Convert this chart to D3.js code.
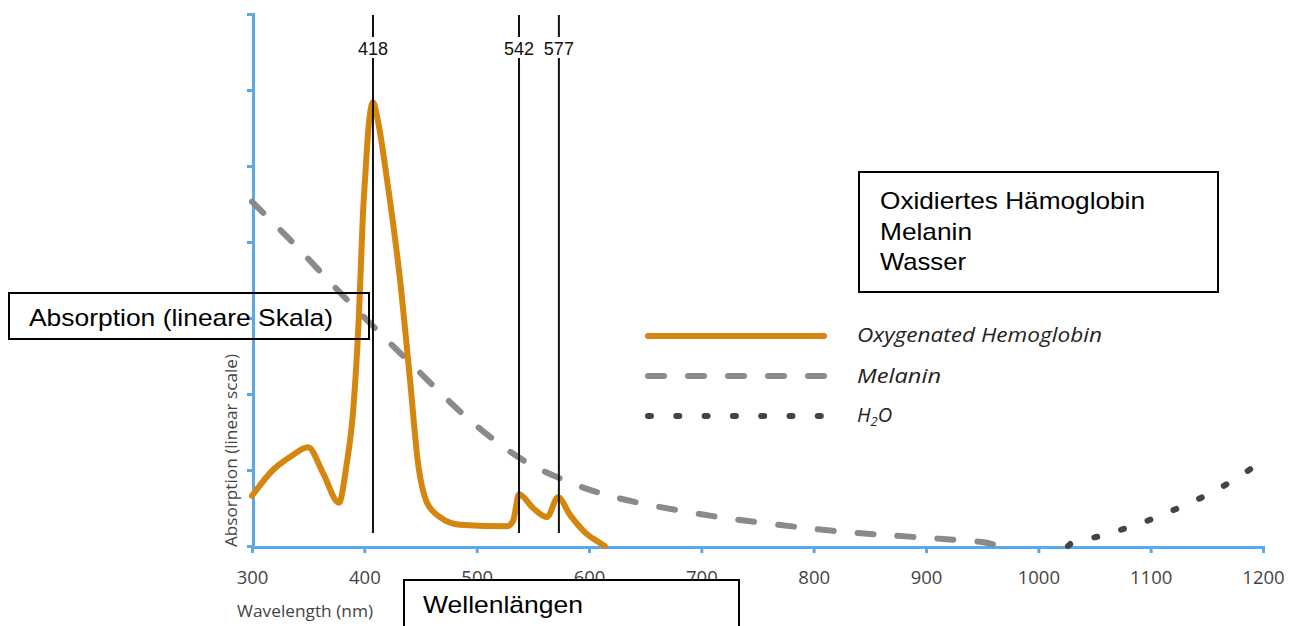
<!DOCTYPE html>
<html>
<head>
<meta charset="utf-8">
<script src="https://cdn.jsdelivr.net/npm/d3@7"></script>
<style>
  html, body { margin: 0; padding: 0; background: #fff; }
  svg { display: block; }
</style>
</head>
<body>
<svg id="chart" width="1292" height="626"></svg>
<script>
// ---- data ----
const xTicks = [300, 400, 500, 600, 700, 800, 900, 1000, 1100, 1200];
const yTicks = [0, 1, 2, 3, 4, 5, 6, 7];

const hbWavelength = [300, 318.7, 333.8, 349.9, 363.2, 377.4, 384, 389.9, 395.3, 398.8, 400.6, 404, 407.7, 412, 420.2, 431.8, 440.7, 447.8, 455.8, 467.4, 485.2, 527, 532.4, 537.7, 550.2, 562.6, 572.4, 583.1, 596.4, 609.8, 614];
const hbAbsorption = [0.66, 1.0, 1.17, 1.30, 0.96, 0.57, 1.05, 1.75, 3.07, 4.38, 4.82, 5.55, 5.84, 5.6, 4.82, 3.50, 2.18, 1.09, 0.57, 0.38, 0.28, 0.26, 0.33, 0.68, 0.50, 0.38, 0.64, 0.41, 0.18, 0.04, 0.0];

const melaninWavelength = [300, 333.8, 387.2, 438, 496.7, 541.3, 574.2, 616, 698.8, 817.2, 887.6, 955.2, 961.4];
const melaninAbsorption = [4.53, 4.03, 3.20, 2.45, 1.62, 1.13, 0.89, 0.67, 0.42, 0.20, 0.12, 0.04, 0.01];

const waterWavelength = [1026.4, 1030.9, 1054.9, 1079, 1102.1, 1126.1, 1148.4, 1170.6, 1194.7];
const waterAbsorption = [0.0, 0.05, 0.13, 0.24, 0.36, 0.51, 0.66, 0.84, 1.07];

const peakLabels = ["418", "542", "577"];
const peakPositions = [407.7, 537.7, 573.2];

const legendLabels = ["Oxygenated Hemoglobin", "Melanin", "H2O"];
const germanLegend = ["Oxidiertes Hämoglobin", "Melanin", "Wasser"];
const xTitle = "Wavelength (nm)";
const yTitle = "Absorption (linear scale)";
const xTitleDe = "Wellenlängen";
const yTitleDe = "Absorption (lineare Skala)";

// ---- styles ----
const ORANGE = "#d5860f";
const MELANIN = "#8a8a8a";
const WATER = "#444444";
const AXIS = "#5aaae8";

const svg = d3.select("#chart");
const x = d3.scaleLinear().domain([300, 1200]).range([252, 1263]);
const y = d3.scaleLinear().domain([0, 7]).range([546, 14]);

// axes
const xAxisG = svg.append("g").attr("transform", "translate(0,547)")
  .call(d3.axisBottom(x).tickValues(xTicks).tickSize(6).tickSizeOuter(6).tickFormat(d3.format("d")));
xAxisG.select(".domain").attr("stroke", AXIS).attr("stroke-width", 3);
xAxisG.selectAll(".tick line").attr("stroke", AXIS).attr("stroke-width", 3);
xAxisG.selectAll(".tick text")
  .attr("y", 37).attr("dy", 0)
  .attr("fill", "#444").attr("font-family", "'Open Sans', sans-serif").attr("font-size", 18.5);

const yAxisG = svg.append("g").attr("transform", "translate(253,0)")
  .call(d3.axisLeft(y).tickValues(yTicks).tickSize(6).tickSizeOuter(6).tickFormat(""));
yAxisG.select(".domain").attr("stroke", AXIS).attr("stroke-width", 3);
yAxisG.selectAll(".tick line").attr("stroke", AXIS).attr("stroke-width", 3);

// axis titles
svg.append("text")
  .attr("x", 237).attr("y", 617)
  .attr("fill", "#444").attr("font-family", "'Open Sans', sans-serif").attr("font-size", 17)
  .attr("textLength", 136).attr("lengthAdjust", "spacingAndGlyphs")
  .text(xTitle);
svg.append("text")
  .attr("transform", "translate(237,547) rotate(-90)")
  .attr("fill", "#444").attr("font-family", "'Open Sans', sans-serif").attr("font-size", 16)
  .attr("textLength", 193).attr("lengthAdjust", "spacingAndGlyphs")
  .text(yTitle);

// curves
const line = d3.line().x(d => x(d[0])).y(d => y(d[1])).curve(d3.curveCatmullRom.alpha(0.5));
const hbLine = d3.line().x(d => x(d[0])).y(d => y(d[1])).curve(d3.curveMonotoneX);
svg.append("path")
  .datum(melaninWavelength.map((w, i) => [w, melaninAbsorption[i]]))
  .attr("d", line).attr("fill", "none").attr("stroke", MELANIN).attr("stroke-width", 6)
  .attr("stroke-linecap", "round").attr("stroke-dasharray", "16,24");
svg.append("path")
  .datum(waterWavelength.map((w, i) => [w, waterAbsorption[i]]))
  .attr("d", line).attr("fill", "none").attr("stroke", WATER).attr("stroke-width", 6)
  .attr("stroke-linecap", "round").attr("stroke-dasharray", "3,25");
svg.append("path")
  .datum(hbWavelength.map((w, i) => [w, hbAbsorption[i]]))
  .attr("d", hbLine).attr("fill", "none").attr("stroke", ORANGE).attr("stroke-width", 6)
  .attr("stroke-linejoin", "round").attr("stroke-linecap", "round");

// peak lines
const peaks = svg.append("g");
peakPositions.forEach((p, i) => {
  const px = x(p);
  peaks.append("line").attr("x1", px).attr("x2", px).attr("y1", 15).attr("y2", 37)
    .attr("stroke", "#111").attr("stroke-width", 2);
  peaks.append("line").attr("x1", px).attr("x2", px).attr("y1", 58).attr("y2", 533)
    .attr("stroke", "#111").attr("stroke-width", 2);
  peaks.append("text").attr("x", px).attr("y", 55).attr("text-anchor", "middle")
    .attr("font-family", "'Liberation Sans', Arial, sans-serif").attr("font-size", 18)
    .attr("fill", "#111").text(peakLabels[i]);
});

// legend
const legend = svg.append("g");
const legendStyles = [
  { stroke: ORANGE, dash: null },
  { stroke: MELANIN, dash: "16,24" },
  { stroke: WATER, dash: "3,25.3" }
];
const legendLineY = [336, 376, 416];
const legendTextY = [342, 383, 422];
legendLabels.forEach((lab, i) => {
  const s = legendStyles[i];
  const l = legend.append("line").attr("x1", 648).attr("x2", 824)
    .attr("y1", legendLineY[i]).attr("y2", legendLineY[i])
    .attr("stroke", s.stroke).attr("stroke-width", 6).attr("stroke-linecap", "round");
  if (s.dash) l.attr("stroke-dasharray", s.dash);
  const t = legend.append("text").attr("x", 857).attr("y", legendTextY[i])
    .attr("font-family", "'Open Sans', sans-serif").attr("font-style", "italic")
    .attr("font-size", 20).attr("fill", "#222");
  if (lab === "H2O") {
    t.append("tspan").text("H");
    t.append("tspan").attr("font-size", 13).attr("dy", 4).text("2");
    t.append("tspan").attr("dy", -4).text("O");
  } else {
    t.attr("textLength", i === 0 ? 245 : 84).attr("lengthAdjust", "spacingAndGlyphs").text(lab);
  }
});

// overlay boxes (German labels)
const ARIAL = "'Liberation Sans', Arial, sans-serif";
svg.append("rect").attr("x", 859).attr("y", 172).attr("width", 359).attr("height", 120)
  .attr("fill", "#fff").attr("stroke", "#000").attr("stroke-width", 2);
const deBase = [209, 240, 270];
const deLen = [265, 92, 86];
germanLegend.forEach((t, i) => {
  svg.append("text").attr("x", 880).attr("y", deBase[i])
    .attr("font-family", ARIAL).attr("font-size", 24).attr("fill", "#000")
    .attr("textLength", deLen[i]).attr("lengthAdjust", "spacingAndGlyphs").text(t);
});
svg.append("rect").attr("x", 9).attr("y", 293).attr("width", 360).attr("height", 46)
  .attr("fill", "none").attr("stroke", "#000").attr("stroke-width", 2);
svg.append("text").attr("x", 29).attr("y", 326)
  .attr("font-family", ARIAL).attr("font-size", 24).attr("fill", "#000")
  .attr("textLength", 304).attr("lengthAdjust", "spacingAndGlyphs").text(yTitleDe);
svg.append("rect").attr("x", 404).attr("y", 580).attr("width", 335).attr("height", 60)
  .attr("fill", "#fff").attr("stroke", "#000").attr("stroke-width", 2);
svg.append("text").attr("x", 423).attr("y", 613)
  .attr("font-family", ARIAL).attr("font-size", 24).attr("fill", "#000")
  .attr("textLength", 160).attr("lengthAdjust", "spacingAndGlyphs").text(xTitleDe);
</script>
</body>
</html>
